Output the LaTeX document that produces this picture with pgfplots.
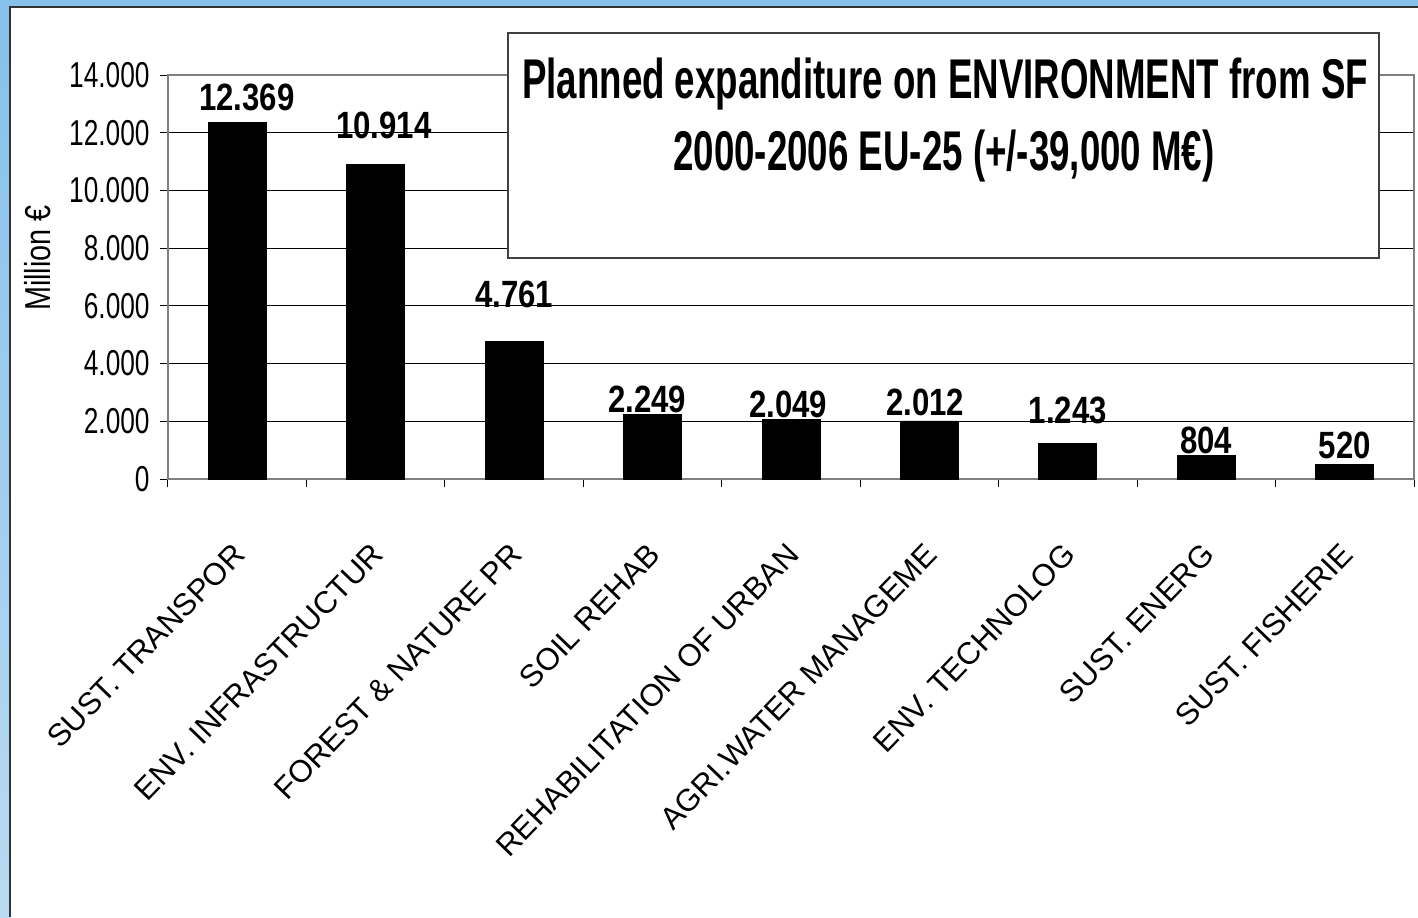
\documentclass[border=0pt]{standalone}
\usepackage{pgfplots}
\pgfplotsset{compat=1.18}
\usepackage{fontspec}
\setmainfont{Liberation Sans}
\newfontfamily\tickfont{Liberation Sans}[FakeStretch=0.73]
\newfontfamily\numfont{Liberation Sans}[FakeStretch=0.82]
\newfontfamily\titlefont{Liberation Sans}[FakeStretch=0.655]
\newfontfamily\ylabfont{Liberation Sans}[FakeStretch=0.8]
\definecolor{bgblue}{RGB}{133,193,235}
\definecolor{bgblue2}{RGB}{185,218,242}
\definecolor{axgray}{RGB}{128,128,128}

\pgfplotstableread{
x y
0.5 12369
1.5 10914
2.5 4761
3.5 2249
4.5 2049
5.5 2012
6.5 1243
7.5 804
8.5 520
}\bardata

\pgfplotstableread{
x y label
0.57 12787 12.369
1.56 11817 10.914
2.5 5960 4.761
3.46 2322 2.249
4.48 2148 2.049
5.47 2218 2.012
6.5 1941 1.243
7.5 901 804
8.5 728 520
}\labeldata

\begin{document}
\begin{tikzpicture}
\begin{scope}[x=0.5pt,y=-0.5pt]
\useasboundingbox (0,0) rectangle (1418,917);
\fill[bgblue] (0,0) rectangle (1418,917);
\shade[top color=bgblue, bottom color=bgblue2] (0,7) rectangle (10,917);
\fill[white] (10,7) rectangle (1418,917);
\draw[line width=1pt, black!80] (10,917) -- (10,7) -- (1418,7);
\end{scope}

\begin{axis}[
  at={(84pt,-239.5pt)}, anchor=south west,
  scale only axis, width=623pt, height=202pt,
  xmin=0, xmax=9, ymin=0, ymax=14000,
  clip=false,
  scaled y ticks=false,
  axis line style={draw=axgray, line width=1pt},
  tick align=outside,
  xtick pos=bottom, ytick pos=left,
  major tick length=4pt, minor tick length=4pt,
  tick style={black, line width=0.5pt},
  ytick={0,2000,4000,6000,8000,10000,12000,14000},
  yticklabels={0,2.000,4.000,6.000,8.000,10.000,12.000,14.000},
  yticklabel style={font=\tickfont\fontsize{18}{20}\selectfont, inner sep=0pt, anchor=east, xshift=-5pt},
  ymajorgrids, grid style={black, line width=0.5pt},
  xtick={0.5,1.5,2.5,3.5,4.5,5.5,6.5,7.5,8.5},
  major x tick style={draw=none},
  minor xtick={0,1,2,3,4,5,6,7,8,9},
  xticklabels={SUST. TRANSPOR, ENV. INFRASTRUCTUR, FOREST \& NATURE PR, SOIL REHAB, REHABILITATION OF URBAN, AGRI.WATER MANAGEME, ENV. TECHNOLOG, SUST. ENERG, SUST. FISHERIE},
  xticklabel style={font=\fontsize{15.5}{17}\selectfont, inner sep=0pt, yshift=-27pt, xshift=-3pt, rotate=46, anchor=north east},
  ylabel={Million €},
  ylabel style={at={(axis description cs:-0.105,0.547)}, anchor=center, font=\ylabfont\fontsize{18}{20}\selectfont},
]
\addplot[ybar, bar width=29pt, fill=black, draw=black] table[x=x,y=y] {\bardata};
\addplot[draw=none, mark=none, nodes near coords, point meta=explicit symbolic,
  nodes near coords style={anchor=base, inner sep=0pt, font=\numfont\bfseries\fontsize{19}{21}\selectfont}]
  table[x=x,y=y,meta=label] {\labeldata};
\end{axis}

\begin{scope}[x=0.5pt,y=-0.5pt]
\draw[fill=white, draw=black!75, line width=0.75pt] (508,33) rectangle (1379,258);
\node[anchor=base, inner sep=0pt, font=\titlefont\bfseries\fontsize{28}{30}\selectfont] at (945,98) {Planned expanditure on ENVIRONMENT from SF};
\node[anchor=base, inner sep=0pt, font=\titlefont\bfseries\fontsize{28}{30}\selectfont] at (944,170) {2000-2006 EU-25 (+/-39,000 M€)};
\end{scope}
\end{tikzpicture}
\end{document}
